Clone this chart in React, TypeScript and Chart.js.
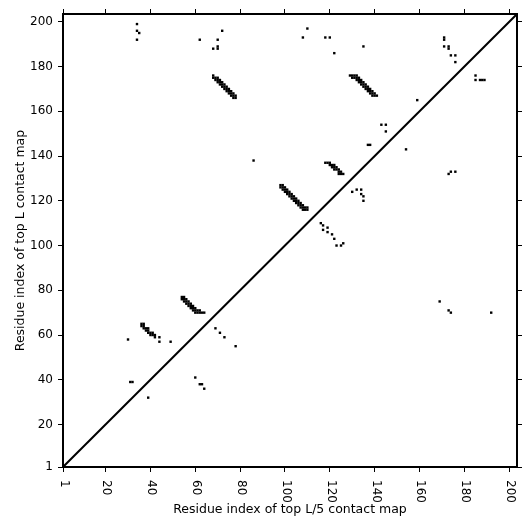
import React, { useEffect, useRef } from "react";
import { Chart, registerables } from "chart.js";

Chart.register(...registerables);

const axisMin = 1;
const axisMax = 203.5;
const tickValues = [1, 20, 40, 60, 80, 100, 120, 140, 160, 180, 200];
const xTitle = "Residue index of top L/5 contact map";
const yTitle = "Residue index of top L contact map";
const diagonal = [1, 203.5];

// contacts above the diagonal (top L contact map)
const topLContacts: [number, number][] = [
  [34, 199], [34, 196], [35, 195], [34, 192],
  [62, 192], [72, 196], [70, 192], [68, 188], [70, 189], [70, 188],
  [110, 197], [108, 193], [118, 193], [120, 193], [122, 186],
  // strand pair 68-78 / 166-176
  [68, 176], [68, 175], [69, 175], [69, 174], [70, 175], [70, 174], [70, 173],
  [71, 174], [71, 173], [71, 172], [72, 173], [72, 172], [72, 171], [73, 172],
  [73, 171], [73, 170], [74, 171], [74, 170], [74, 169], [75, 170], [75, 169],
  [75, 168], [76, 169], [76, 168], [76, 167], [77, 168], [77, 167], [77, 166],
  [78, 167], [78, 166],
  [86, 138],
  // strand pair 129-141 / 167-176
  [129, 176], [130, 176], [131, 176], [132, 176], [130, 175], [131, 175], [132, 175],
  [133, 175], [132, 174], [133, 174], [134, 174], [133, 173], [134, 173], [135, 173],
  [134, 172], [135, 172], [136, 172], [135, 171], [136, 171], [137, 171], [136, 170],
  [137, 170], [138, 170], [137, 169], [138, 169], [139, 169], [138, 168], [139, 168],
  [140, 168], [139, 167], [140, 167], [141, 167],
  // strand pair 118-126 / 132-137
  [118, 137], [119, 137], [120, 137], [120, 136], [121, 136], [122, 136], [121, 135],
  [122, 135], [123, 135], [122, 134], [123, 134], [124, 134], [124, 133], [125, 133],
  [124, 132], [125, 132], [126, 132],
  [135, 189], [171, 193], [171, 192], [171, 189], [173, 189], [173, 188], [174, 185],
  [176, 185], [176, 182], [185, 176], [185, 174], [187, 174], [188, 174], [189, 174],
  [159, 165], [143, 154], [145, 154], [145, 151], [137, 145], [138, 145],
  // strand pair 98-110 / 116-127
  [98, 127], [98, 126], [99, 127], [99, 126], [100, 126], [99, 125], [100, 125],
  [101, 125], [100, 124], [101, 124], [102, 124], [101, 123], [102, 123], [103, 123],
  [102, 122], [103, 122], [104, 122], [103, 121], [104, 121], [105, 121], [104, 120],
  [105, 120], [106, 120], [105, 119], [106, 119], [107, 119], [106, 118], [107, 118],
  [108, 118], [107, 117], [108, 117], [109, 117], [108, 116], [109, 116], [110, 116],
  [110, 117],
  // strand pair 54-64 / 70-77
  [54, 77], [54, 76], [55, 77], [55, 76], [55, 75], [56, 76], [56, 75], [56, 74],
  [57, 75], [57, 74], [57, 73], [58, 74], [58, 73], [58, 72], [59, 73], [59, 72],
  [59, 71], [60, 72], [60, 71], [60, 70], [61, 71], [61, 70], [62, 71], [62, 70],
  [63, 70], [64, 70],
  // strand pair 36-42 / 59-65
  [36, 65], [36, 64], [37, 65], [37, 64], [37, 63], [38, 63], [38, 62], [39, 63],
  [39, 62], [39, 61], [40, 61], [40, 60], [41, 61], [41, 60], [42, 60], [42, 59],
  [30, 58], [44, 59], [44, 57], [49, 57],
  [31, 39], [32, 39],
];

// contacts below the diagonal (top L/5 contact map)
const topL5Contacts: [number, number][] = [
  [39, 32], [60, 41], [62, 38], [63, 38], [64, 36],
  [69, 63], [71, 61], [73, 59], [78, 55],
  [116, 110], [117, 109], [117, 107], [119, 108], [119, 106], [121, 105], [122, 103],
  [123, 100], [125, 100], [126, 101],
  [130, 124], [132, 125], [134, 125], [134, 123], [135, 122], [135, 120],
  [154, 143], [169, 75], [173, 71], [174, 70], [192, 70],
  [173, 132], [174, 133], [176, 133],
];

const FONT = "DejaVu Sans";
const TICK_SIZE = 12;
const TITLE_SIZE = 12.5;

const xLabelPlugin = {
  id: "rotatedXLabels",
  afterDraw(chart: any) {
    const s = chart.scales.x;
    const ctx = chart.ctx;
    ctx.save();
    ctx.fillStyle = "#000";
    ctx.font = `${TICK_SIZE}px "${FONT}"`;
    ctx.textAlign = "left";
    ctx.textBaseline = "middle";
    for (const t of s.ticks) {
      const px = s.getPixelForValue(t.value);
      ctx.save();
      ctx.translate(px + 1, s.top + 13);
      ctx.rotate(Math.PI / 2);
      ctx.fillText(String(t.value), 0, 0);
      ctx.restore();
    }
    ctx.restore();
  },
};

const setTicks = (scale: any) => {
  scale.ticks = tickValues.map((v) => ({ value: v }));
};

const gridOpts = {
  drawOnChartArea: false,
  drawTicks: true,
  tickLength: 5,
  color: "#000",
  lineWidth: 1,
};
const borderOpts = { display: true, color: "#000", width: 2 };

export default function App() {
  const ref = useRef<HTMLCanvasElement | null>(null);

  useEffect(() => {
    if (!ref.current) return;
    Chart.defaults.font.family = FONT;
    const pointStyle = {
      pointStyle: "rect" as const,
      pointRadius: 1.7,
      pointBackgroundColor: "#000",
      pointBorderWidth: 0,
      showLine: false,
    };
    const chart = new Chart(ref.current, {
      type: "scatter",
      data: {
        datasets: [
          {
            label: "top L",
            data: topLContacts.map(([x, y]) => ({ x, y })),
            ...pointStyle,
          },
          {
            label: "top L/5",
            data: topL5Contacts.map(([x, y]) => ({ x, y })),
            ...pointStyle,
          },
          {
            label: "diagonal",
            data: diagonal.map((v) => ({ x: v, y: v })),
            showLine: true,
            borderColor: "#000",
            borderWidth: 2,
            pointRadius: 0,
            fill: false,
          },
        ],
      },
      options: {
        responsive: true,
        maintainAspectRatio: false,
        animation: false,
        layout: { padding: 0 },
        plugins: { legend: { display: false }, tooltip: { enabled: false } },
        scales: {
          x: {
            type: "linear",
            position: "bottom",
            min: axisMin,
            max: axisMax,
            afterBuildTicks: setTicks,
            afterFit: (s: any) => { s.height = 64; },
            ticks: { display: false },
            grid: gridOpts,
            border: borderOpts,
            title: {
              display: true,
              text: xTitle,
              color: "#000",
              font: { size: TITLE_SIZE, family: FONT },
              padding: { top: 0, bottom: 14 },
            },
          },
          x2: {
            type: "linear",
            axis: "x",
            position: "top",
            min: axisMin,
            max: axisMax,
            afterBuildTicks: setTicks,
            afterFit: (s: any) => { s.height = 14; },
            ticks: { display: false },
            grid: gridOpts,
            border: borderOpts,
          },
          y: {
            type: "linear",
            position: "left",
            min: axisMin,
            max: axisMax,
            afterBuildTicks: setTicks,
            afterFit: (s: any) => { s.width = 63; },
            ticks: {
              color: "#000",
              font: { size: TICK_SIZE, family: FONT },
              padding: 5,
              callback: (v: any) => String(v),
            },
            grid: gridOpts,
            border: borderOpts,
            title: {
              display: true,
              text: yTitle,
              color: "#000",
              font: { size: TITLE_SIZE, family: FONT },
              padding: { top: 13, bottom: 0 },
            },
          },
          y2: {
            type: "linear",
            axis: "y",
            position: "right",
            min: axisMin,
            max: axisMax,
            afterBuildTicks: setTicks,
            afterFit: (s: any) => { s.width = 14; },
            ticks: { display: false },
            grid: gridOpts,
            border: borderOpts,
          },
        },
      } as any,
      plugins: [xLabelPlugin],
    });
    return () => chart.destroy();
  }, []);

  return (
    <div style={{ position: "fixed", left: 0, top: 0, width: 531, height: 531 }}>
      <canvas ref={ref} />
    </div>
  );
}
